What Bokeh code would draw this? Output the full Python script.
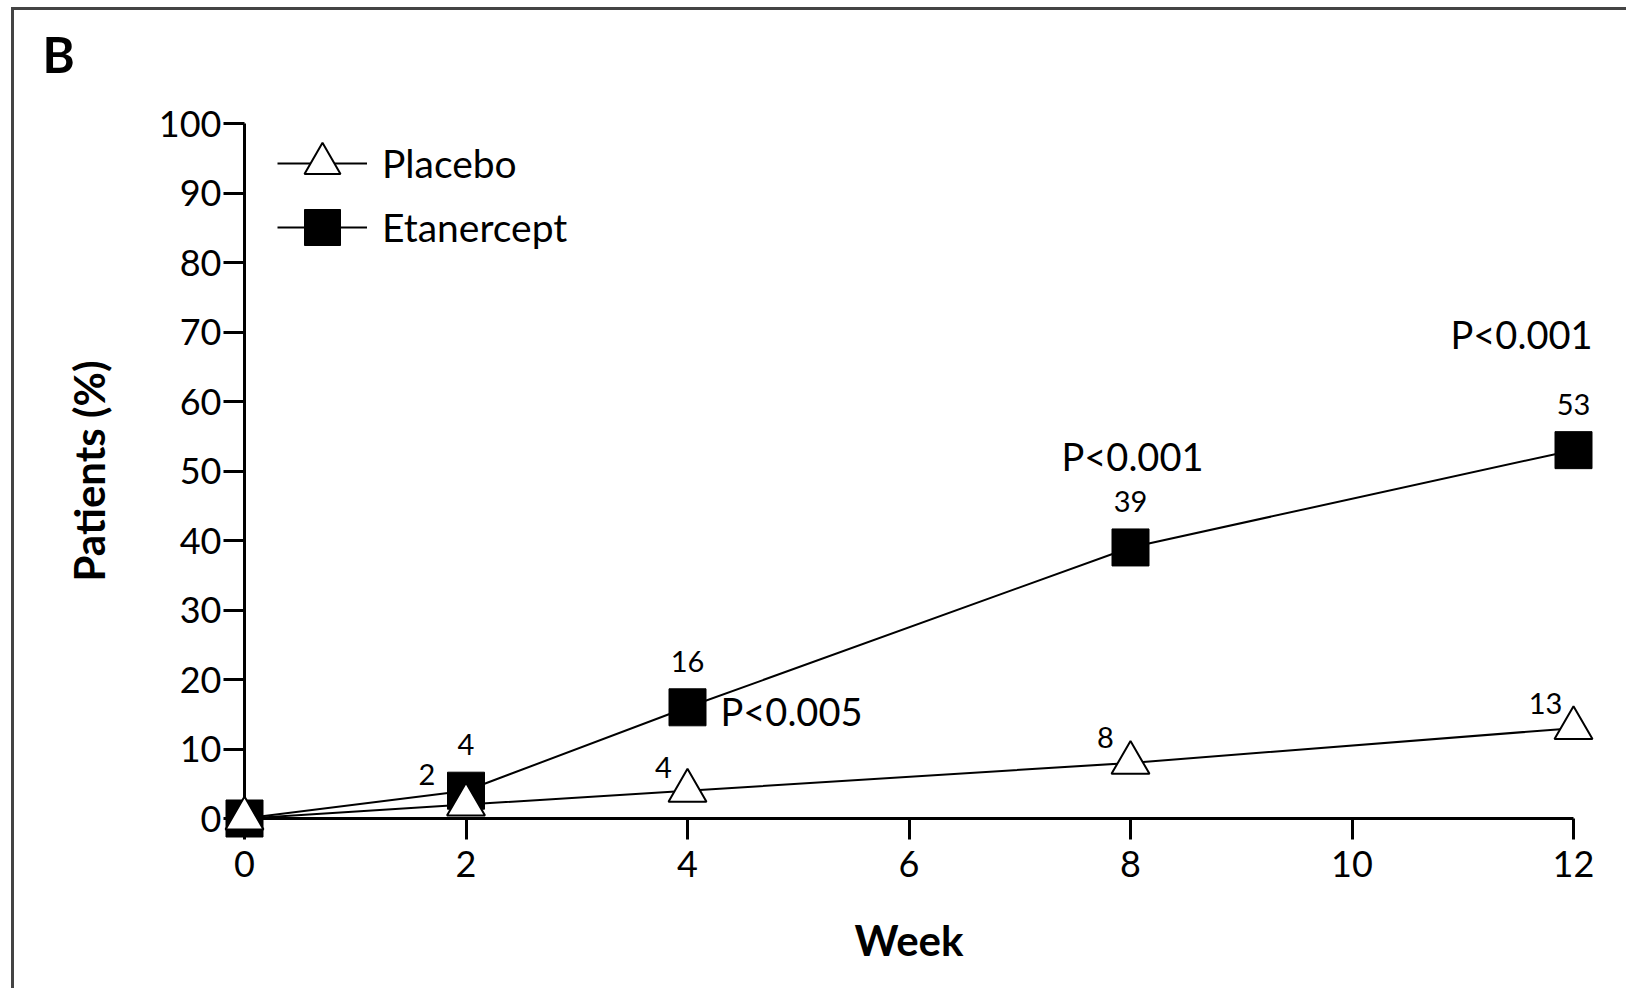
from bokeh.plotting import figure
from bokeh.models import (Range1d, FixedTicker, ColumnDataSource, Legend, LegendItem)
from bokeh.core.properties import value
from bokeh.embed import file_html
from bokeh.resources import INLINE

# Percentage of patients responding, by study week
weeks = [0, 2, 4, 8, 12]
placebo = [0, 2, 4, 8, 13]
etanercept = [0, 4, 16, 39, 53]

x_ticks = [0, 2, 4, 6, 8, 10, 12]
y_ticks = [0, 10, 20, 30, 40, 50, 60, 70, 80, 90, 100]

# Significance notes attached to the etanercept curve
p_weeks = [4, 8, 12]
p_texts = ["P<0.005", "P<0.001", "P<0.001"]

panel_letter = "B"

FONT = "Lato"

p = figure(width=1615, height=981, output_backend="svg", toolbar_location=None,
           x_range=Range1d(0, 12), y_range=Range1d(0, 100),
           min_border_left=230, min_border_right=56,
           min_border_top=113, min_border_bottom=173,
           styles={"margin-left": "11px", "margin-top": "7px",
                   "border-left": "3px solid #444444",
                   "border-top": "3px solid #444444"})
p.grid.visible = False
p.outline_line_color = None
p.background_fill_color = "white"
p.border_fill_color = "white"

for ax, ticks in ((p.xaxis, x_ticks), (p.yaxis, y_ticks)):
    ax.ticker = FixedTicker(ticks=ticks)
    ax.axis_line_width = 3
    ax.axis_line_color = "black"
    ax.major_tick_line_width = 3
    ax.major_tick_line_color = "black"
    ax.major_tick_in = 0
    ax.major_tick_out = 21
    ax.minor_tick_out = 0
    ax.minor_tick_in = 0
    ax.major_label_text_font = FONT
    ax.major_label_text_font_size = "36px"
    ax.major_label_text_color = "black"
    ax.axis_label_text_font = FONT
    ax.axis_label_text_font_style = "bold"
    ax.axis_label_text_font_size = "42px"
    ax.axis_label_text_color = "black"

p.xaxis.axis_label = "Week"
p.xaxis.major_label_standoff = 11
p.xaxis.axis_label_standoff = 35
p.yaxis.axis_label = "Patients (%)"
p.yaxis.major_label_standoff = 2
p.yaxis.axis_label_standoff = 42

# Curves
et_line = p.line(weeks, etanercept, line_color="black", line_width=2)
pl_line = p.line(weeks, placebo, line_color="black", line_width=2)
et_pts = p.scatter(weeks, etanercept, marker="square", size=37,
                   fill_color="black", line_color="black", line_width=1,
                   level="overlay")
pl_pts = p.scatter(weeks, placebo, marker="triangle", size=38,
                   fill_color="white", line_color="black", line_width=2,
                   level="overlay")

# Value labels (week 0 is unlabelled); offsets are screen pixels, +y is down
et_src = ColumnDataSource(dict(x=weeks[1:], y=etanercept[1:],
                               text=[str(v) for v in etanercept[1:]]))
p.text(x="x", y="y", text="text", source=et_src, y_offset=-46,
       text_align="center", text_baseline="middle",
       text_font=value(FONT), text_font_size="29px", text_color="black",
       level="overlay")

pl_dx = [-39, -24, -25, -28]
pl_dy = [-30, -23, -25, -25]
pl_src = ColumnDataSource(dict(x=weeks[1:], y=placebo[1:],
                               text=[str(v) for v in placebo[1:]],
                               dx=pl_dx, dy=pl_dy))
p.text(x="x", y="y", text="text", source=pl_src, x_offset="dx", y_offset="dy",
       text_align="center", text_baseline="middle",
       text_font=value(FONT), text_font_size="29px", text_color="black",
       level="overlay")

# P-value notes
p_style = [("left", 33, 4), ("center", 2, -91), ("right", 19, -116)]
for wk, txt, (align, dx, dy) in zip(p_weeks, p_texts, p_style):
    yv = etanercept[weeks.index(wk)]
    p.text(x=[wk], y=[yv], text=[txt], x_offset=dx, y_offset=dy,
           text_align=align, text_baseline="middle",
           text_font=value(FONT), text_font_size="38px", text_color="black",
           level="overlay")

# Panel letter, anchored to the top of the y axis
p.text(x=[x_ticks[0]], y=[y_ticks[-1]], text=[panel_letter],
       x_offset=-202, y_offset=-70,
       text_align="left", text_baseline="middle",
       text_font=value(FONT), text_font_style="bold", text_font_size="49px",
       text_color="black", level="overlay")

# Legend: one box per entry so the two rows sit close together
legend_rows = [("Placebo", [pl_line, pl_pts], (33, 610)),
               ("Etanercept", [et_line, et_pts], (33, 546))]
for label, rends, loc in legend_rows:
    p.add_layout(Legend(items=[LegendItem(label=label, renderers=rends)],
                        location=loc, glyph_width=90, glyph_height=90,
                        padding=0, margin=0, label_standoff=15,
                        border_line_color=None, background_fill_alpha=0,
                        label_text_font=FONT, label_text_font_size="39px",
                        label_text_color="black", level="overlay"))

open("out.html", "w").write(file_html(p, INLINE))
